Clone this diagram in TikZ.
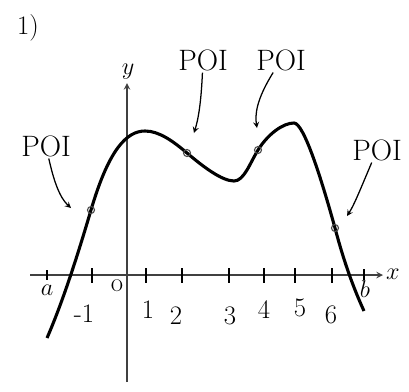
\documentclass[tikz,border=0pt]{standalone}
\begin{document}
\begin{tikzpicture}[>=stealth, thick, x=0.025cm, y=-0.025cm,
  poi/.style={font=\fontsize{21}{24}\selectfont, inner sep=1pt},
  num/.style={font=\fontsize{19}{22}\selectfont, inner sep=1pt},
  axis/.style={line width=1.1pt, black!75},
  tickmark/.style={line width=1.5pt},
  dot/.style={draw, circle, inner sep=0pt, minimum size=5pt, line width=0.8pt, black!70},
  pointer/.style={->, line width=0.9pt}]
\useasboundingbox (0,0) rectangle (409,391);
\node[num] (q) at (28,28) {1)};
\coordinate (xs) at (30,275);
\coordinate (xe) at (383,275);
\coordinate (ys) at (127,382);
\coordinate (ye) at (127,83);
\draw[axis, ->] (xs) -- (xe);
\draw[axis, ->] (ys) -- (ye);
\node[num] (xl) at (393,274) {$x$};
\node[num] (yl) at (128,72) {$y$};
\draw[tickmark, line width=1pt] (47,270) -- (47,280);
\draw[tickmark] (92,268) -- (92,283);
\draw[tickmark] (146,268) -- (146,283);
\draw[tickmark] (182,268) -- (182,283);
\draw[tickmark] (229,268) -- (229,283);
\draw[tickmark] (264,268) -- (264,283);
\draw[tickmark] (295,268) -- (295,283);
\draw[tickmark] (332,268) -- (332,283);
\draw[tickmark, line width=1pt] (364,269) -- (364,280);
\node[num] (la) at (47,290) {$a$};
\node[num] (lb) at (365,289) {$b$};
\node[num] (lo) at (117,286) {o};
\node[num] (lm1) at (84,314) {-1};
\node[num] (l1) at (148,310) {1};
\node[num] (l2) at (176,316) {2};
\node[num] (l3) at (230,316) {3};
\node[num] (l4) at (264,310) {4};
\node[num] (l5) at (300,308) {5};
\node[num] (l6) at (331,315) {6};
\draw[line width=2.2pt] (47,338) .. controls (61.7,304.3) and (76.3,259.9) .. (91,210)
  .. controls (109,148.8) and (127,131) .. (145,131)
  .. controls (159,131) and (173,141.1) .. (187,153)
  .. controls (203,166.6) and (222,181) .. (234,181)
  .. controls (244,181) and (250,163) .. (258,150)
  .. controls (268,134) and (283,123) .. (294,123)
  .. controls (304,123) and (322,181) .. (335,228)
  .. controls (344.7,264.7) and (354.3,289.7) .. (364,311);
\node[dot] (p1) at (91,210) {};
\node[dot] (p2) at (187,153) {};
\node[dot] (p3) at (258,150) {};
\node[dot] (p4) at (335,228) {};
\node[poi] (n1) at (46,146) {POI};
\node[poi] (n2) at (203,60) {POI};
\node[poi] (n3) at (281,60) {POI};
\node[poi] (n4) at (377,150) {POI};
\coordinate (t1) at (71,208);
\coordinate (t2) at (194,133);
\coordinate (t3) at (257,128);
\coordinate (t4) at (347,216);
\draw[pointer] (n1) .. controls (54,182) and (60,198) .. (t1);
\draw[pointer] (n2) .. controls (201,105) and (198,120) .. (t2);
\draw[pointer] (n3) .. controls (256,100) and (255,115) .. (t3);
\draw[pointer] (n4) .. controls (358,195) and (354,205) .. (t4);
\end{tikzpicture}
\end{document}
